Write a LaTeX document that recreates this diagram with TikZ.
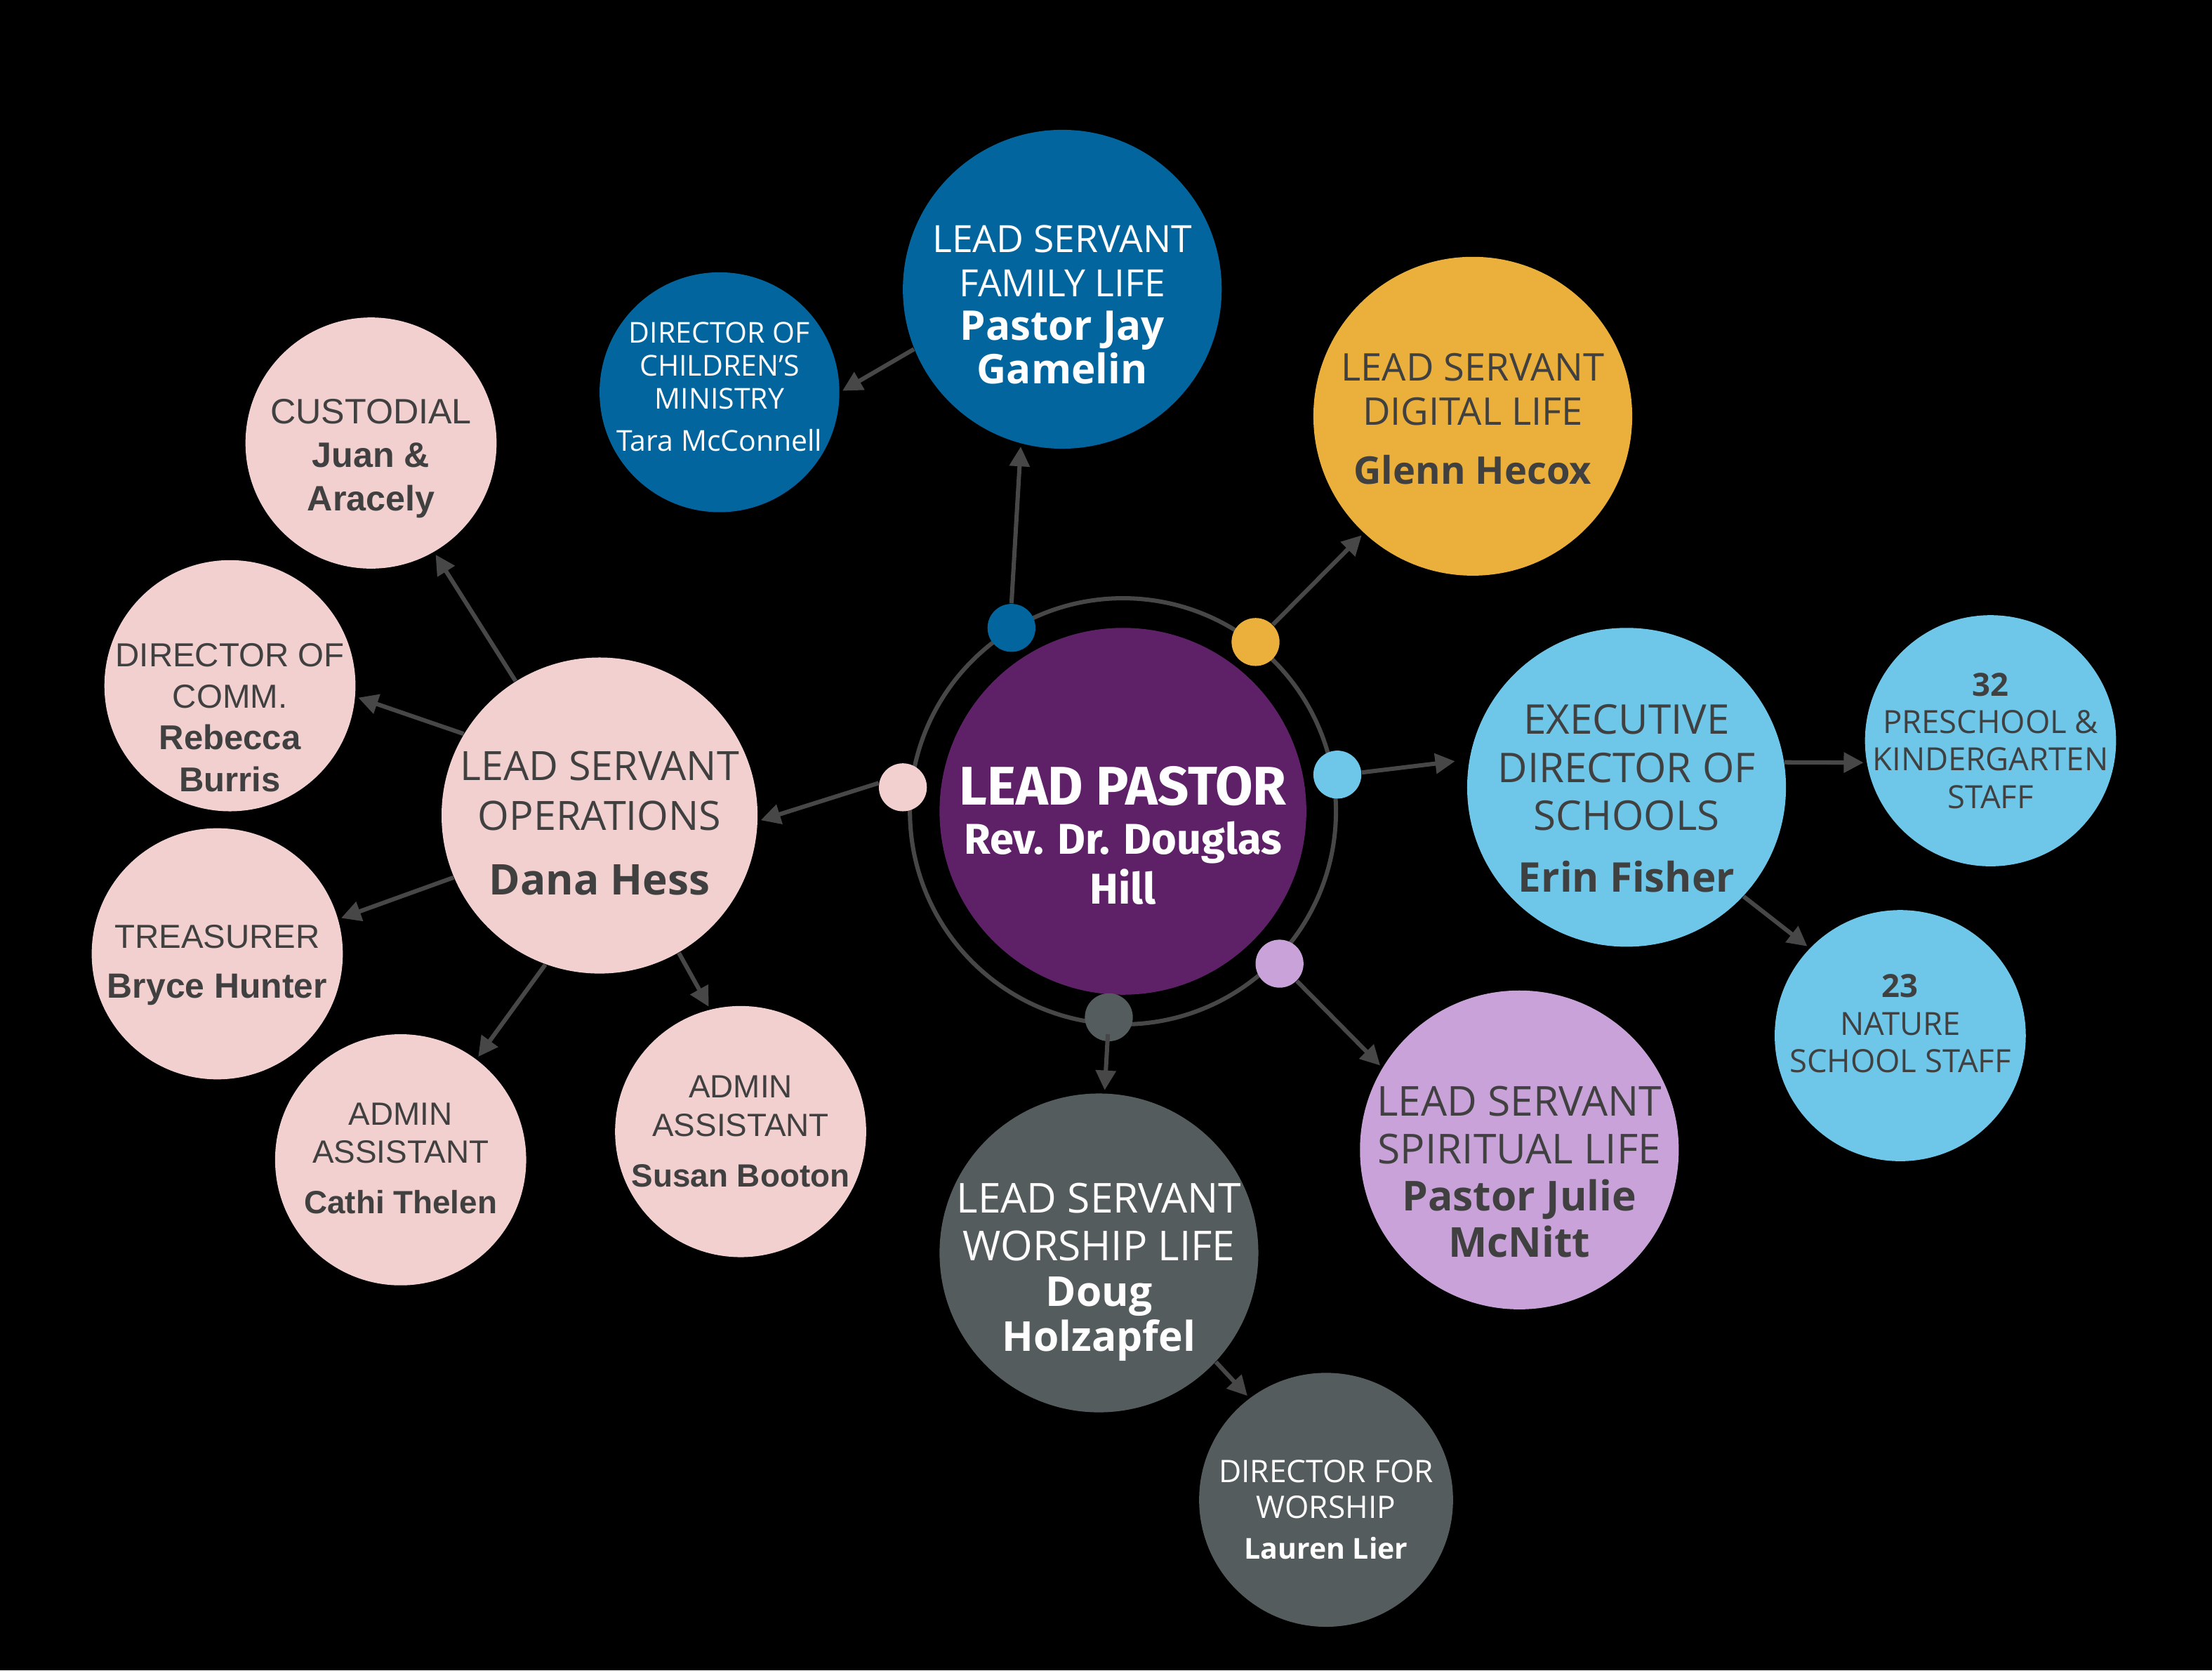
\documentclass[tikz,border=0pt]{standalone}
\usepackage{fontspec}
\setmainfont{Open Sans}
\newfontfamily\af{Liberation Sans}
\newfontfamily\pf{Fira Sans}
\usetikzlibrary{arrows.meta,calc}
\definecolor{purp}{HTML}{5E2168}
\definecolor{dblue}{HTML}{03659E}
\definecolor{yel}{HTML}{EBAF3C}
\definecolor{lblue}{HTML}{6EC6E9}
\definecolor{lav}{HTML}{C8A2D8}
\definecolor{gry}{HTML}{545C5D}
\definecolor{pnk}{HTML}{F2D0CF}
\definecolor{linec}{HTML}{474747}
\definecolor{txtd}{HTML}{404040}
\begin{document}
\begin{tikzpicture}[x=0.5pt,y=-0.5pt,
  bub/.style={circle,inner sep=0pt},
  txt/.style={inner sep=0pt,align=center},
  dotn/.style={circle,inner sep=0pt,minimum size=17pt},
  arr/.style={draw=linec,line width=1.5pt,-{Triangle[length=7pt,width=7pt]},shorten >=1pt}
]
\fill[black] (0,0) rectangle (1568,1184);
\useasboundingbox (0,0) rectangle (1568,1184);

% ring
\node[circle,draw=linec,line width=1.5pt,minimum size=151pt,inner sep=0pt] (ring) at (796,575) {};

% circles
\node[bub,fill=purp,minimum size=130pt] (lp) at (796,575) {};
\node[bub,fill=dblue,minimum size=113pt] (fam) at (753,205) {};
\node[bub,fill=dblue,minimum size=85pt] (chil) at (510,278) {};
\node[bub,fill=yel,minimum size=113pt] (dig) at (1044,295) {};
\node[bub,fill=lblue,minimum size=113pt] (exec) at (1153,558) {};
\node[bub,fill=lblue,minimum size=89pt] (pre) at (1411,525) {};
\node[bub,fill=lblue,minimum size=89pt] (nat) at (1347,734) {};
\node[bub,fill=lav,minimum size=113pt] (spi) at (1077,815) {};
\node[bub,fill=gry,minimum size=113pt] (wor) at (779,888) {};
\node[bub,fill=gry,minimum size=90pt] (dw) at (940,1063) {};
\node[bub,fill=pnk,minimum size=112pt] (ops) at (425,578) {};
\node[bub,fill=pnk,minimum size=89pt] (cus) at (263,314) {};
\node[bub,fill=pnk,minimum size=89pt] (com) at (163,486) {};
\node[bub,fill=pnk,minimum size=89pt] (tre) at (154,676) {};
\node[bub,fill=pnk,minimum size=89pt] (cat) at (284,822) {};
\node[bub,fill=pnk,minimum size=89pt] (sus) at (525,802) {};

% texts
\node[txt,text=white,font=\pf\bfseries\fontsize{19.3}{17.5}\selectfont] (lpt) at ($(lp)+(0,17)$)
  {LEAD PASTOR\\{\fontsize{15.25}{17}\selectfont Rev. Dr. Douglas}\\{\fontsize{15.25}{17}\selectfont Hill}};
\node[txt,text=white,font=\fontsize{13.3}{15.5}\selectfont] (famt) at ($(fam)+(0,11)$)
  {LEAD SERVANT\\FAMILY LIFE\\{\bfseries\fontsize{14.5}{15}\selectfont Pastor Jay}\\{\bfseries\fontsize{14.5}{15}\selectfont Gamelin}};
\node[txt,text=white,font=\fontsize{10.2}{11.75}\selectfont] (chilt) at ($(chil)+(0,-4)$)
  {DIRECTOR OF\\CHILDREN’S\\MINISTRY\\[3pt]Tara McConnell};
\node[txt,text=txtd,font=\fontsize{13.5}{15.5}\selectfont] (digt) at ($(dig)+(0,2)$)
  {LEAD SERVANT\\DIGITAL LIFE\\[5.5pt]{\bfseries Glenn Hecox}};
\node[txt,text=txtd,font=\fontsize{14.5}{17}\selectfont] (exect) at ($(exec)+(0,8)$)
  {EXECUTIVE\\DIRECTOR OF\\SCHOOLS\\[5pt]{\bfseries Erin Fisher}};
\node[txt,text=txtd,font=\fontsize{11.3}{13.25}\selectfont] (pret) at (pre)
  {{\bfseries 32}\\PRESCHOOL \&\\KINDERGARTEN\\STAFF};
\node[txt,text=txtd,font=\fontsize{11.3}{13.25}\selectfont] (natt) at ($(nat)+(0,-8.5)$)
  {{\bfseries 23}\\NATURE\\SCHOOL STAFF};
\node[txt,text=txtd,font=\fontsize{14.6}{16.5}\selectfont] (spit) at ($(spi)+(0,15.5)$)
  {LEAD SERVANT\\[0.5pt]SPIRITUAL LIFE\\{\bfseries Pastor Julie}\\{\bfseries McNitt}};
\node[txt,text=white,font=\fontsize{14.6}{16}\selectfont] (wort) at ($(wor)+(0,13.5)$)
  {LEAD SERVANT\\[1pt]WORSHIP LIFE\\{\bfseries Doug}\\{\bfseries Holzapfel}};
\node[txt,text=white,font=\fontsize{11}{12.5}\selectfont] (dwt) at ($(dw)+(0,7)$)
  {DIRECTOR FOR\\WORSHIP\\[2pt]{\bfseries\fontsize{10.2}{12.5}\selectfont Lauren Lier}};
\node[txt,text=txtd,font=\fontsize{14.3}{17.5}\selectfont] (opst) at ($(ops)+(0,5.5)$)
  {LEAD SERVANT\\OPERATIONS\\[5.5pt]{\bfseries\fontsize{15}{17.5}\selectfont Dana Hess}};
\node[txt,text=txtd,font=\af\fontsize{12.5}{15.5}\selectfont] (cust) at ($(cus)+(0,11)$)
  {CUSTODIAL\\{\bfseries Juan \&}\\{\bfseries Aracely}};
\node[txt,text=txtd,font=\af\fontsize{11.8}{14.75}\selectfont] (comt) at ($(com)+(0,22.5)$)
  {DIRECTOR OF\\COMM.\\{\bfseries\fontsize{12.2}{14.75}\selectfont Rebecca}\\{\bfseries\fontsize{12.2}{14.75}\selectfont Burris}};
\node[txt,text=txtd,font=\af\fontsize{11.8}{17.5}\selectfont] (tret) at ($(tre)+(0,8)$)
  {TREASURER\\{\bfseries\fontsize{12.4}{17.5}\selectfont Bryce Hunter}};
\node[txt,text=txtd,font=\af\fontsize{11.4}{13.5}\selectfont] (catt) at ($(cat)+(0,-1)$)
  {ADMIN\\ASSISTANT\\[4.5pt]{\bfseries Cathi Thelen}};
\node[txt,text=txtd,font=\af\fontsize{11.4}{13.5}\selectfont] (sust) at (sus)
  {ADMIN\\ASSISTANT\\[4.5pt]{\bfseries Susan Booton}};

% dots on ring
\node[dotn,fill=dblue] (bdot) at (717,445) {};
\node[dotn,fill=yel] (ydot) at (890,455) {};
\node[dotn,fill=lblue] (ldot) at (948,549) {};
\node[dotn,fill=pnk] (pdot) at (640,558) {};
\node[dotn,fill=lav] (vdot) at (907,683) {};
\node[dotn,fill=gry] (gdot) at (786,721) {};

% connectors
\draw[arr] (bdot.north) -- (fam.255);
\draw[arr] (ydot.45) -- (dig.227);
\draw[arr,shorten >=5pt] (ldot.5) -- (exec.170);
\draw[arr] (pdot.170) -- (ops.-2);
\draw[arr] (vdot.-45) -- (spi.149);
\draw[arr,shorten <=6pt] (gdot.center) -- (wor.88);
\draw[arr] (fam.202) -- (chil.0);
\draw[arr] (ops.122) -- (cus.-60);
\draw[arr] (ops.149) -- (com.-5);
\draw[arr] (ops.203) -- (tre.16);
\draw[arr] (ops.250) -- (cat.53);
\draw[arr] (ops.-60) -- (sus.104);
\draw[arr] (exec.9) -- (pre.190);
\draw[arr] (exec.-43) -- (nat.136);
\draw[arr] (wor.-43) -- (dw.127);
\end{tikzpicture}
\end{document}
